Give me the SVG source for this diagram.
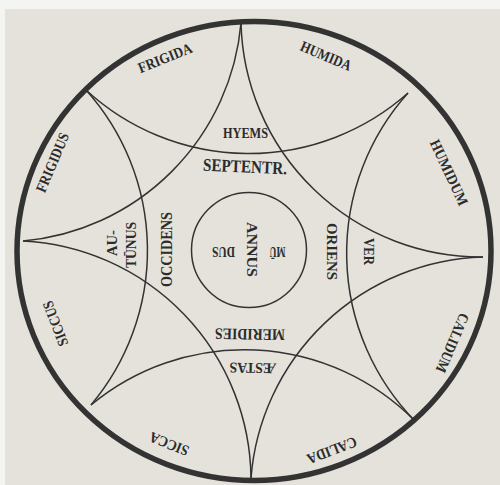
<svg xmlns="http://www.w3.org/2000/svg" width="500" height="485" viewBox="0 0 500 485">
<style>
.arc{fill:none;stroke:#333;stroke-width:1.5}
.lbl{font-family:"Liberation Serif",serif;font-weight:bold;fill:#2b2b2b;text-anchor:middle;font-size:15px}
</style>
<rect width="500" height="485" fill="#f4f4f2"/>
<rect x="5" y="9" width="495" height="476" fill="#e4e2da"/>
<ellipse id="ring" cx="254" cy="251" rx="237" ry="229.5" fill="none" stroke="#333" stroke-width="5.5"/>
<g id="star">
<path class="arc" d="M241,23 A240,240 0 0 0 483,257"/>
<path class="arc" d="M483,257 A240,240 0 0 0 251,478"/>
<path class="arc" d="M251,478 A240,240 0 0 0 23,241"/>
<path class="arc" d="M23,241 A240,240 0 0 0 241,23"/>
<path class="arc" d="M408,93 A240,240 0 0 0 415,421"/>
<path class="arc" d="M415,421 A240,240 0 0 0 91,405"/>
<path class="arc" d="M91,405 A240,240 0 0 0 86,90"/>
<path class="arc" d="M86,90 A240,240 0 0 0 408,93"/>
</g>
<circle id="inner" class="arc" cx="249" cy="250" r="57.5"/>
<g id="outer-labels" class="lbl">
<text transform="translate(165,58) rotate(-22)" y="5" textLength="57" lengthAdjust="spacingAndGlyphs">FRIGIDA</text>
<text transform="translate(326,56) rotate(23)" y="5" textLength="54" lengthAdjust="spacingAndGlyphs">HUMIDA</text>
<text transform="translate(449,172.5) rotate(65)" y="5" textLength="71" lengthAdjust="spacingAndGlyphs">HUMIDUM</text>
<text transform="translate(452.5,343) rotate(113)" y="5" textLength="63" lengthAdjust="spacingAndGlyphs">CALIDUM</text>
<text transform="translate(332,450.5) rotate(159)" y="5" textLength="52" lengthAdjust="spacingAndGlyphs">CALIDA</text>
<text transform="translate(169,444) rotate(202)" y="5" textLength="41" lengthAdjust="spacingAndGlyphs">SICCA</text>
<text transform="translate(55.5,323.5) rotate(249)" y="5" textLength="47" lengthAdjust="spacingAndGlyphs">SICCUS</text>
<text transform="translate(52.5,162.5) rotate(-67)" y="5" textLength="63" lengthAdjust="spacingAndGlyphs">FRIGIDUS</text>
</g>
<g id="inner-labels" class="lbl">
<text transform="translate(245.5,132.5)" y="5" textLength="45" lengthAdjust="spacingAndGlyphs">HYEMS</text>
<text transform="translate(245,166.5) rotate(2.5)" y="6" font-size="18" textLength="84" lengthAdjust="spacingAndGlyphs">SEPTENTR.</text>
<text transform="translate(332,251.5) rotate(90)" y="5" textLength="57" lengthAdjust="spacingAndGlyphs">ORIENS</text>
<text transform="translate(369,251.5) rotate(90)" y="5" textLength="27" lengthAdjust="spacingAndGlyphs">VER</text>
<text transform="translate(250,334) rotate(181)" y="5" font-size="16" textLength="70" lengthAdjust="spacingAndGlyphs">MERIDIES</text>
<text transform="translate(253,368) rotate(181)" y="5" textLength="47" lengthAdjust="spacingAndGlyphs">ÆSTAS</text>
<text transform="translate(166,249.5) rotate(-90)" y="5.5" font-size="17" textLength="75" lengthAdjust="spacingAndGlyphs">OCCIDENS</text>
<text transform="translate(112,243) rotate(-90)" y="5" textLength="26" lengthAdjust="spacingAndGlyphs">AU-</text>
<text transform="translate(130.5,245) rotate(-90)" y="5" textLength="46" lengthAdjust="spacingAndGlyphs">TŪNUS</text>
</g>
<g id="center-label" class="lbl">
<text transform="translate(252,249.5) rotate(90)" y="5" textLength="55" lengthAdjust="spacingAndGlyphs">ANNUS</text>
<text transform="translate(277.5,251.5) rotate(180)" y="5" textLength="16" lengthAdjust="spacingAndGlyphs">MŪ</text>
<text transform="translate(223.5,251.5) rotate(180)" y="5" textLength="23" lengthAdjust="spacingAndGlyphs">DUS</text>
</g>
</svg>
